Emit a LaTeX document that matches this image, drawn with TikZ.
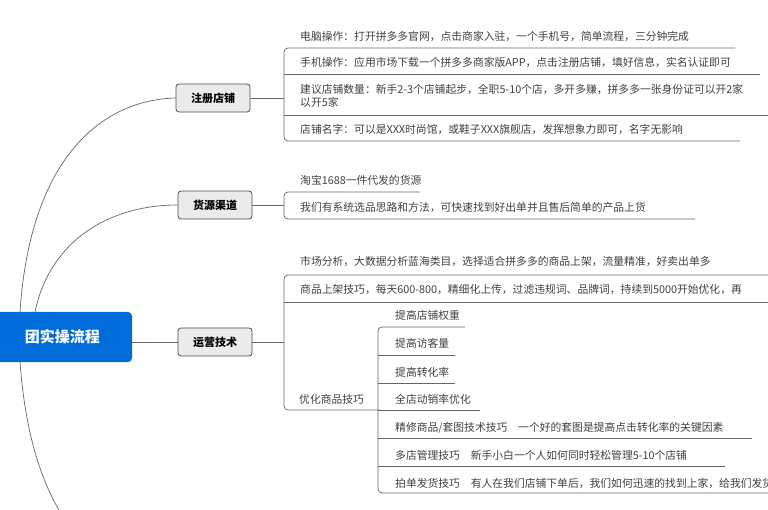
\documentclass[tikz,border=0pt]{standalone}
\usepackage{fontspec}
\setmainfont{Noto Sans CJK SC}
\begin{document}
\begin{tikzpicture}[x=1pt,y=-1pt,
 ln/.style={draw=black!60,line width=0.7pt},
 br/.style={draw=black!60,line width=0.7pt,rounded corners=4pt},
 leaf/.style={anchor=base west,inner sep=0pt,font=\fontsize{10.8}{12}\selectfont,text=black!75},
 mainb/.style={draw=black!70,fill=black!8,rounded corners=3pt,line width=0.8pt,minimum width=74pt,minimum height=28pt,font=\fontsize{11}{12}\selectfont\bfseries}]
\useasboundingbox (0,0) rectangle (768,510);
\clip (0,0) rectangle (768,510);
% root
\fill[blue!50!cyan!85!black,rounded corners=4pt] (-20,312) rectangle (132,362);
\node[anchor=east,inner sep=0pt,text=white,font=\fontsize{15}{16}\selectfont\bfseries] (root) at (100,337) {团实操流程};
\coordinate (rt) at (132,342);
% main boxes
\node[mainb] (a) at (213,98) {注册店铺};
\node[mainb] (b) at (215,205) {货源渠道};
\node[mainb] (c) at (215,342) {运营技术};
% curves
\draw[ln] (20,312) .. controls (30,160) and (100,100) .. (a.west);
\draw[ln] (35,312) .. controls (50,240) and (110,205) .. (b.west);
\draw[ln] (rt) -- (c.west);
\draw[ln] (20,362) .. controls (25,430) and (40,480) .. (62,515);
% branch A
\draw[ln] (a.east) -- (284,98);
\draw[br] (735,48) -- (284,48) -- (284,141) -- (740,141);
\draw[ln] (284,74) -- (760,74);
\draw[ln] (284,115) -- (768,115);
\node[leaf] (a1) at (300,41) {电脑操作：打开拼多多官网，点击商家入驻，一个手机号，简单流程，三分钟完成};
\node[leaf] (a2) at (300,67) {手机操作：应用市场下载一个拼多多商家版APP，点击注册店铺，填好信息，实名认证即可};
\node[leaf] (a3) at (300,94) {建议店铺数量：新手2-3个店铺起步，全职5-10个店，多开多赚，拼多多一张身份证可以开2家};
\node[leaf] (a3b) at (300,107) {以开5家};
\node[leaf] (a4) at (300,134) {店铺名字：可以是XXX时尚馆，或鞋子XXX旗舰店，发挥想象力即可，名字无影响};
% branch B
\draw[ln] (b.east) -- (284,205);
\draw[br] (420,192) -- (284,192) -- (284,219) -- (695,219);
\node[leaf] (b1) at (300,185) {淘宝1688一件代发的货源};
\node[leaf] (b2) at (300,212) {我们有系统选品思路和方法，可快速找到好出单并且售后简单的产品上货};
% branch C
\draw[ln] (c.east) -- (284,342);
\draw[br] (768,275) -- (284,275) -- (284,410) -- (380,410);
\draw[ln] (284,302) -- (768,302);
\node[leaf] (c1) at (300,266) {市场分析，大数据分析蓝海类目，选择适合拼多多的商品上架，流量精准，好卖出单多};
\node[leaf] (c2) at (300,294) {商品上架技巧，每天600-800，精细化上传，过滤违规词、品牌词，持续到5000开始优化，再};
\node[leaf] (c3) at (299,403) {优化商品技巧};
\draw[br] (465,327) -- (378,327) -- (378,493) -- (768,493);
\draw[ln] (378,355) -- (455,355);
\draw[ln] (378,383) -- (455,383);
\draw[ln] (378,410) -- (480,410);
\draw[ln] (378,438) -- (752,438);
\draw[ln] (378,466) -- (725,466);
\node[leaf] (d1) at (395,320) {提高店铺权重};
\node[leaf] (d2) at (395,348) {提高访客量};
\node[leaf] (d3) at (395,376) {提高转化率};
\node[leaf] (d4) at (395,403) {全店动销率优化};
\node[leaf] (d5) at (395,431) {精修商品/套图技术技巧\quad 一个好的套图是提高点击转化率的关键因素};
\node[leaf] (d6) at (395,459) {多店管理技巧\quad 新手小白一个人如何同时轻松管理5-10个店铺};
\node[leaf] (d7) at (395,487) {拍单发货技巧\quad 有人在我们店铺下单后，我们如何迅速的找到上家，给我们发货};
\end{tikzpicture}
\end{document}
